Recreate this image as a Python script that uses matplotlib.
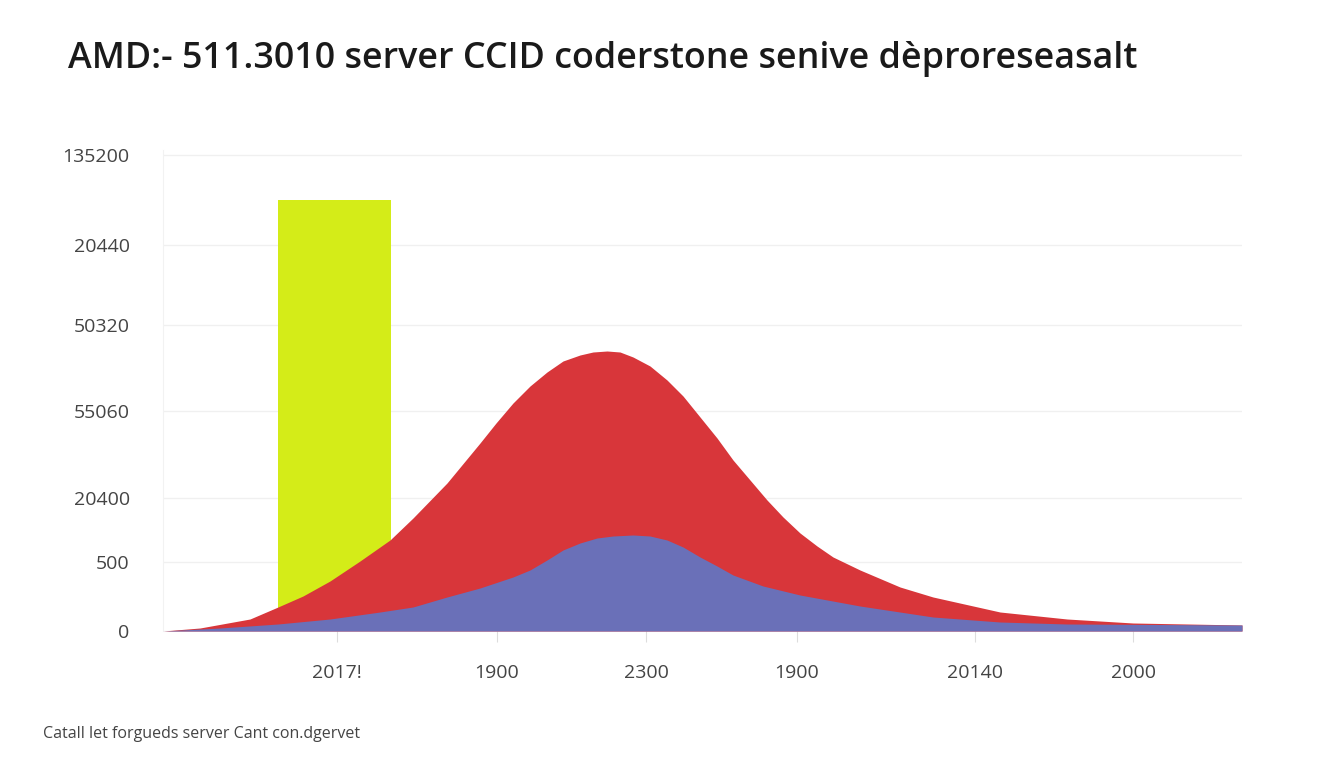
import numpy as np
import matplotlib
matplotlib.use("Agg")
import matplotlib.pyplot as plt

plt.rcParams['font.family'] = ['Open Sans', 'DejaVu Sans']

# 数据 (读图估计, 单位为图上的相对刻度)
title = "AMD:- 511.3010 server CCID coderstone senive dèproreseasalt"
footer = "Catall let forgueds server Cant con.dgervet"

ytick_pos = [0, 69, 133, 220, 306, 386, 476]
ytick_labels = ['0', '500', '20400', '55060', '50320', '20440', '135200']

xtick_pos = [174, 334, 483, 634, 812, 970]
xtick_labels = ['2017!', '1900', '2300', '1900', '20140', '2000']

# 柱子
bar_x = 171
bar_width = 113
bar_height = 431

# 红色面积
red_x = [0, 37, 87, 115, 140, 167, 197, 227, 250, 284, 317, 333, 350, 367,
         384, 400, 417, 430, 444, 457, 470, 487, 504, 520, 537, 554, 570, 587,
         604, 620, 637, 654, 670, 697, 737, 770, 837, 904, 970, 1079]
red_y = [0, 3, 12, 24, 35, 50, 70, 91, 113, 148, 188, 208, 228, 245,
         259, 270, 276, 279, 280, 279, 274, 265, 251, 235, 214, 193, 171, 151,
         131, 114, 98, 85, 74, 61, 44, 34, 19, 12, 8, 6]

# 蓝色面积
blue_x = [0, 57, 115, 167, 217, 250, 284, 317, 350, 367, 384, 400, 417, 434,
          450, 470, 487, 504, 520, 537, 554, 570, 600, 637, 697, 770, 837,
          904, 1079]
blue_y = [0, 3, 7, 12, 19, 24, 34, 43, 54, 61, 71, 81, 88, 93,
          95, 96, 95, 91, 84, 74, 65, 56, 45, 36, 25, 14, 9,
          7, 6]

fig = plt.figure(figsize=(13.44, 7.68), dpi=100)
ax = fig.add_axes([163 / 1344, 137 / 768, 1079 / 1344, 481 / 768])

ax.bar(bar_x, bar_height, width=bar_width, color='#d4ec18', zorder=1)
ax.fill_between(red_x, red_y, 0, color='#d8363a', linewidth=0, zorder=2)
ax.fill_between(blue_x, blue_y, 0, color='#6a70b8', linewidth=0, zorder=3)

ax.set_xlim(0, 1079)
ax.set_ylim(0, 481)

ax.set_yticks(ytick_pos)
ax.set_yticklabels(ytick_labels, fontsize=14, color='#444444')
ax.set_xticks(xtick_pos)
ax.set_xticklabels(xtick_labels, fontsize=14, color='#444444')
ax.tick_params(axis='y', length=0, pad=24)
ax.tick_params(axis='x', length=8, color='#dddddd', pad=16)

ax.grid(axis='y', color='#f0f0f0', linewidth=1, zorder=0)
ax.set_axisbelow(True)
for s in ['top', 'right', 'bottom']:
    ax.spines[s].set_visible(False)
ax.spines['left'].set_color('#f2f2f2')

# 标题, 按目标宽度调整字号
t = fig.text(68 / 1344, 1 - 59 / 768, title, fontsize=25, fontweight='semibold',
             color='#1a1a1a', va='center', ha='left')
fig.canvas.draw()
w = t.get_window_extent().width
t.set_fontsize(25 * 1070 / w)

fig.text(43 / 1344, 1 - 734 / 768, footer, fontsize=11.5, color='#444444',
         va='center', ha='left')

fig.savefig('out.png', dpi=100, facecolor='white')
